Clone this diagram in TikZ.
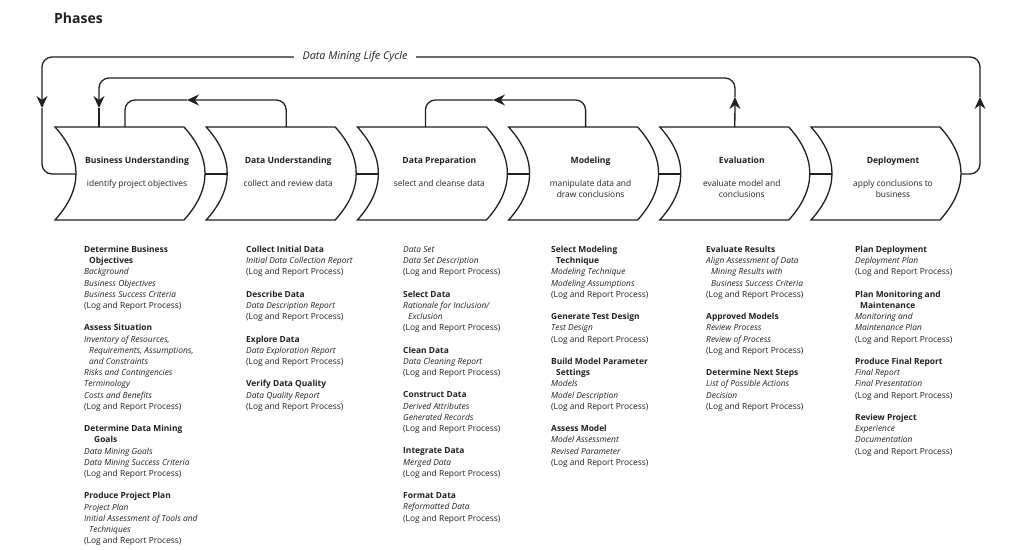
\documentclass[tikz,border=0pt]{standalone}
\usepackage{fontspec}
\setmainfont{Open Sans}
\usepackage{xcolor}
\usepackage{tikz}
\usetikzlibrary{arrows.meta,positioning,calc}
\definecolor{ink}{HTML}{231F20}
\tikzset{
  phase/.style={draw=ink,fill=white,line width=1.3pt},
  link/.style={draw=ink,line width=1.3pt,rounded corners=10pt},
  linktip/.style={link,-{Stealth[length=12pt,width=11pt,inset=4pt]}},
  phasetitle/.style={font=\fontsize{8.6}{11.2}\selectfont\bfseries,text=ink,
                     inner sep=0pt,anchor=base},
  phasenote/.style={font=\fontsize{8.4}{11.2}\selectfont,text=ink,
                    inner sep=0pt,anchor=north,align=center},
  tasklist/.style={font=\fontsize{8.4}{11.2}\selectfont,text=ink,
                   inner sep=0pt,anchor=north west,align=left},
  cyclelabel/.style={font=\fontsize{10.8}{12}\selectfont\itshape,text=ink,
                     fill=white,inner xsep=9pt,inner ysep=1pt},
}
\newcommand{\tsk}[1]{\textbf{#1}}
\newcommand{\outp}[1]{\textit{#1}}
\newcommand{\ind}{\hspace*{5pt}}
\newcommand{\logrep}{(Log and Report Process)}
\newcommand{\gap}{\\[11.2pt]}
% one phase chevron: name, left x, title, note
\newcommand{\phasebox}[4]{%
  \draw[phase] (#2,127) -- ++(129,0)
    .. controls +(28,31) and +(28,-31) .. ++(0,93) -- ++(-129,0)
    .. controls +(28,-31) and +(28,31) .. (#2,127) -- cycle;
  \coordinate (#1-nw) at (#2,127);
  \coordinate (#1-in) at (#2+21,174);
  \coordinate (#1-out) at (#2+150,174);
  \node[phasetitle] (#1) at (#2+82,163) {#3};
  \node[phasenote] (#1-note) at (#2+82,180) {#4};
}

\begin{document}
\begin{tikzpicture}[x=1pt,y=-1pt]
  \useasboundingbox (0,0) rectangle (1031,549);
  \node[font=\fontsize{14}{16}\selectfont\bfseries,text=ink,anchor=base west,
        inner sep=0pt] (title) at (54,23) {Phases};
  % phase chevrons
  \phasebox{bu}{55}{Business Understanding}{identify project objectives}
  \phasebox{du}{206.2}{Data Understanding}{collect and review data}
  \phasebox{dp}{357.4}{Data Preparation}{select and cleanse data}
  \phasebox{mo}{508.6}{Modeling}{manipulate data and\\draw conclusions}
  \phasebox{ev}{659.8}{Evaluation}{evaluate model and\\conclusions}
  \phasebox{de}{811}{Deployment}{apply conclusions to\\business}
  \draw[link] (bu-out) -- (du-in);
  \draw[link] (du-out) -- (dp-in);
  \draw[link] (dp-out) -- (mo-in);
  \draw[link] (mo-out) -- (ev-in);
  \draw[link] (ev-out) -- (de-in);
  % feedback loops
  \coordinate (tip-du) at (187,100);
  \coordinate (tip-mo) at (493,100);
  \coordinate (tip-ev) at (735,97);
  \coordinate (tip-bu) at (99,108);
  \coordinate (tip-de) at (980,97);
  \coordinate (tip-lc) at (42,108);
  \draw[linktip] ([xshift=80pt]du-nw) |- (tip-du);
  \draw[link] (tip-du) -| ([xshift=70pt]bu-nw);
  \draw[linktip] ([xshift=77pt]mo-nw) |- (tip-mo);
  \draw[link] (tip-mo) -| ([xshift=68pt]dp-nw);
  \draw[linktip] ([xshift=75pt]ev-nw) -- (tip-ev);
  \draw[linktip] (tip-ev) -- ++(0,-19) -| (tip-bu);
  \draw[link] (tip-bu) -- ([xshift=44pt]bu-nw);
  \draw[linktip] (de-out) -| (tip-de);
  \draw[linktip] (tip-de) -- ++(0,-40) -| (tip-lc);
  \draw[link] (tip-lc) |- (bu-in);
  \node[cyclelabel] (cycle) at (355,57) {Data Mining Life Cycle};
  % generic tasks and outputs
  \node[tasklist] (bu-tasks) at (84,246) {
    \tsk{Determine Business}\\\ind\tsk{Objectives}\\\outp{Background}\\
    \outp{Business Objectives}\\\outp{Business Success Criteria}\\\logrep\gap
    \tsk{Assess Situation}\\\outp{Inventory of Resources,}\\
    \ind\outp{Requirements, Assumptions,}\\\ind\outp{and Constraints}\\
    \outp{Risks and Contingencies}\\\outp{Terminology}\\
    \outp{Costs and Benefits}\\\logrep\gap
    \tsk{Determine Data Mining}\\\hspace*{10pt}\tsk{Goals}\\
    \outp{Data Mining Goals}\\\outp{Data Mining Success Criteria}\\\logrep\gap
    \tsk{Produce Project Plan}\\\outp{Project Plan}\\
    \outp{Initial Assessment of Tools and}\\\ind\outp{Techniques}\\\logrep};
  \node[tasklist] (du-tasks) at (246,246) {
    \tsk{Collect Initial Data}\\\outp{Initial Data Collection Report}\\\logrep\gap
    \tsk{Describe Data}\\\outp{Data Description Report}\\\logrep\gap
    \tsk{Explore Data}\\\outp{Data Exploration Report}\\\logrep\gap
    \tsk{Verify Data Quality}\\\outp{Data Quality Report}\\\logrep};
  \node[tasklist] (dp-tasks) at (403,246) {
    \outp{Data Set}\\\outp{Data Set Description}\\\logrep\gap
    \tsk{Select Data}\\\outp{Rationale for Inclusion/}\\\ind\outp{Exclusion}\\
    \logrep\gap
    \tsk{Clean Data}\\\outp{Data Cleaning Report}\\\logrep\gap
    \tsk{Construct Data}\\\outp{Derived Attributes}\\\outp{Generated Records}\\
    \logrep\gap
    \tsk{Integrate Data}\\\outp{Merged Data}\\\logrep\gap
    \tsk{Format Data}\\\outp{Reformatted Data}\\\logrep};
  \node[tasklist] (mo-tasks) at (551,246) {
    \tsk{Select Modeling}\\\ind\tsk{Technique}\\\outp{Modeling Technique}\\
    \outp{Modeling Assumptions}\\\logrep\gap
    \tsk{Generate Test Design}\\\outp{Test Design}\\\logrep\gap
    \tsk{Build Model Parameter}\\\ind\tsk{Settings}\\\outp{Models}\\
    \outp{Model Description}\\\logrep\gap
    \tsk{Assess Model}\\\outp{Model Assessment}\\\outp{Revised Parameter}\\
    \logrep};
  \node[tasklist] (ev-tasks) at (706,246) {
    \tsk{Evaluate Results}\\\outp{Align Assessment of Data}\\
    \ind\outp{Mining Results with}\\\ind\outp{Business Success Criteria}\\
    \logrep\gap
    \tsk{Approved Models}\\\outp{Review Process}\\\outp{Review of Process}\\
    \logrep\gap
    \tsk{Determine Next Steps}\\\outp{List of Possible Actions}\\
    \outp{Decision}\\\logrep};
  \node[tasklist] (de-tasks) at (855,246) {
    \tsk{Plan Deployment}\\\outp{Deployment Plan}\\\logrep\gap
    \tsk{Plan Monitoring and}\\\ind\tsk{Maintenance}\\\outp{Monitoring and}\\
    \outp{Maintenance Plan}\\\logrep\gap
    \tsk{Produce Final Report}\\\outp{Final Report}\\\outp{Final Presentation}\\
    \logrep\gap
    \tsk{Review Project}\\\outp{Experience}\\\outp{Documentation}\\\logrep};
\end{tikzpicture}
\end{document}
